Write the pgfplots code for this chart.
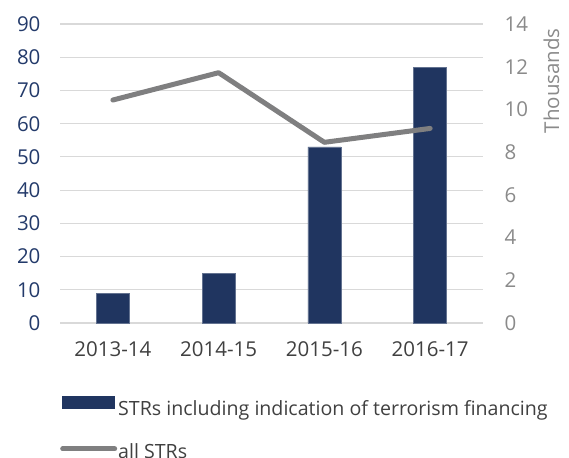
\documentclass[border=0pt]{standalone}
\usepackage{fontspec}
\setmainfont{Open Sans}
\usepackage{pgfplots}
\pgfplotsset{compat=1.18}
\definecolor{barnavy}{HTML}{203560}
\definecolor{ticknavy}{HTML}{233A6A}
\definecolor{linegrey}{HTML}{7F7F80}
\definecolor{rtick}{HTML}{8A8A8A}
\definecolor{xlab}{HTML}{404040}
\definecolor{gridc}{HTML}{D9D9D9}
\begin{document}
\begin{tikzpicture}
\path[use as bounding box] (-60pt,-134pt) rectangle (509pt,323pt);
\begin{axis}[
  at={(0,0)}, anchor=south west,
  width=423pt, height=299pt, scale only axis,
  xmin=-0.5, xmax=3.5, ymin=0, ymax=90,
  ytick={0,10,...,90},
  xtick={0,1,2,3},
  xticklabels={2013-14,2014-15,2015-16,2016-17},
  axis line style={draw=none},
  major tick length=0pt,
  ymajorgrids, grid style={gridc, line width=1.2pt},
  /pgf/number format/assume math mode=true,
  yticklabel style={font=\fontsize{20.5}{24}\selectfont, text=ticknavy, xshift=-16pt},
  xticklabel style={font=\fontsize{20.5}{24}\selectfont, text=xlab, yshift=-15pt},
  legend style={at={(axis description cs:0,0)}, anchor=north west, yshift=-73pt,
    draw=none, fill=none, inner sep=0pt, row sep=25pt,
    font=\fontsize{19.6}{24}\selectfont, text=xlab,
    nodes={inner sep=1pt}},
  legend cell align=left,
]
\addplot[ybar, bar width=33pt, fill=barnavy, draw=barnavy!70!white, line width=0.6pt,
  legend image code/.code={\fill[barnavy] (0pt,0pt) rectangle (52pt,12pt);}]
  coordinates {(0,9) (1,15) (2,53) (3,77)};
\addlegendentry{STRs including indication of terrorism financing}
\addlegendimage{legend image code/.code={\draw[linegrey, line width=5pt, line cap=round] (0pt,3pt) -- (52pt,3pt);}}
\addlegendentry{all STRs}
\end{axis}
\begin{axis}[
  at={(0,0)}, anchor=south west,
  width=423pt, height=299pt, scale only axis,
  xmin=-0.5, xmax=3.5, ymin=0, ymax=14,
  ytick={0,2,...,14},
  axis y line*=right,
  hide x axis,
  axis line style={draw=none},
  major tick length=0pt,
  /pgf/number format/assume math mode=true,
  yticklabel style={font=\fontsize{20.5}{24}\selectfont, text=rtick, xshift=18pt},
  ylabel={Thousands},
  every axis y label/.style={at={(axis description cs:1.162,0.81)}, anchor=center, rotate=90,
    font=\fontsize{20.5}{24}\selectfont, text=rtick},
]
\addplot[linegrey, line width=5pt, line cap=round, line join=round]
  coordinates {(0,10.44) (1,11.72) (2,8.46) (3,9.11)};
\end{axis}
\end{tikzpicture}
\end{document}
